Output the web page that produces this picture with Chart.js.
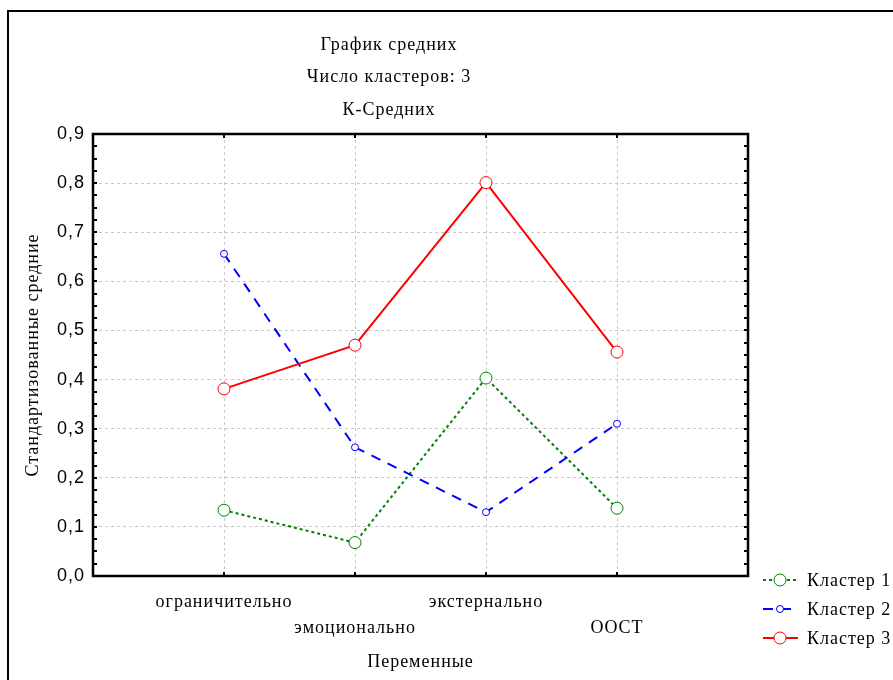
<!DOCTYPE html>
<html>
<head>
<meta charset="utf-8">
<script src="https://cdn.jsdelivr.net/npm/chart.js@4.4.1/dist/chart.umd.min.js"></script>
<style>
    html, body { margin: 0; padding: 0; background: #ffffff; }
    #wrap { width: 893px; height: 680px; }
</style>
</head>
<body>
<div id="wrap"><canvas id="meansChart" width="893" height="680"></canvas></div>
<script>
// Data
const categories = ['ограничительно', 'эмоционально', 'экстернально', 'ООСТ'];
const cluster1 = [0.134, 0.068, 0.403, 0.138];
const cluster2 = [0.656, 0.262, 0.130, 0.310];
const cluster3 = [0.381, 0.470, 0.801, 0.456];
const seriesNames = ['Кластер 1', 'Кластер 2', 'Кластер 3'];
const titleLines = ['График средних', 'Число кластеров: 3', 'К-Средних'];
const yMin = 0, yMax = 0.9, yStep = 0.1, yMinorStep = 0.025;

const serif = '"Liberation Serif", "Times New Roman", serif';
const sans = '"Liberation Sans", Arial, sans-serif';

function toPoints(values) {
    return values.map(function(v, i) { return { x: i + 1, y: v }; });
}

// Frame, titles, legend, inward ticks
const decorPlugin = {
    id: 'decor',
    beforeDraw: function(chart) {
        const ctx = chart.ctx;
        ctx.save();
        ctx.fillStyle = '#ffffff';
        ctx.fillRect(0, 0, chart.width, chart.height);
        ctx.restore();
        // the original text is a little more spaced out
        ctx.letterSpacing = '1px';
    },
    afterDraw: function(chart) {
        const ctx = chart.ctx;
        const area = chart.chartArea;
        const xs = chart.scales.x;
        const ys = chart.scales.y;
        ctx.save();

        // outer frame
        ctx.strokeStyle = '#000000';
        ctx.lineWidth = 2;
        ctx.strokeRect(8, 11, 900, 700);

        // plot border
        ctx.lineWidth = 2.5;
        ctx.strokeRect(area.left, area.top, area.right - area.left, area.bottom - area.top);

        // ticks pointing inward
        ctx.lineWidth = 2;
        ctx.beginPath();
        for (let v = yMin; v <= yMax + 1e-9; v += yMinorStep) {
            const py = Math.round(ys.getPixelForValue(v));
            ctx.moveTo(area.left, py);
            ctx.lineTo(area.left + 4, py);
            ctx.moveTo(area.right, py);
            ctx.lineTo(area.right - 4, py);
        }
        for (let i = 1; i <= categories.length; i++) {
            const px = Math.round(xs.getPixelForValue(i));
            ctx.moveTo(px, area.top);
            ctx.lineTo(px, area.top + 4);
            ctx.moveTo(px, area.bottom);
            ctx.lineTo(px, area.bottom - 4);
        }
        ctx.stroke();

        // titles
        ctx.fillStyle = '#000000';
        ctx.font = '18px ' + serif;
        ctx.textAlign = 'center';
        ctx.textBaseline = 'middle';
        titleLines.forEach(function(line, i) {
            ctx.fillText(line, 389, 45 + i * 32.5);
        });

        // axis titles
        ctx.fillText('Переменные', (area.left + area.right) / 2, 662);
        ctx.save();
        ctx.translate(33, (area.top + area.bottom) / 2);
        ctx.rotate(-Math.PI / 2);
        ctx.fillText('Стандартизованные средние', 0, 0);
        ctx.restore();

        // legend
        chart.data.datasets.forEach(function(ds, i) {
            const ly = 580 + i * 29;
            ctx.strokeStyle = ds.borderColor;
            ctx.lineWidth = 2;
            ctx.setLineDash(ds.borderDash || []);
            ctx.beginPath();
            ctx.moveTo(763, ly);
            ctx.lineTo(798, ly);
            ctx.stroke();
            ctx.setLineDash([]);
            ctx.lineWidth = 1;
            ctx.fillStyle = '#ffffff';
            ctx.beginPath();
            ctx.arc(780, ly, ds.pointRadius, 0, Math.PI * 2);
            ctx.fill();
            ctx.stroke();
            ctx.fillStyle = '#000000';
            ctx.textAlign = 'left';
            ctx.fillText(ds.label, 807, ly + 1);
        });
        ctx.restore();
    }
};

const chart = new Chart(document.getElementById('meansChart').getContext('2d'), {
    type: 'line',
    data: {
        datasets: [{
            label: seriesNames[0],
            data: toPoints(cluster1),
            borderColor: '#008000',
            borderWidth: 2,
            borderDash: [3, 3],
            pointRadius: 6,
            pointBorderWidth: 1,
            pointBackgroundColor: '#ffffff',
            pointBorderColor: '#008000',
            order: 3
        }, {
            label: seriesNames[1],
            data: toPoints(cluster2),
            borderColor: '#0000ff',
            borderWidth: 2,
            borderDash: [10, 8],
            pointRadius: 3.5,
            pointBorderWidth: 1,
            pointBackgroundColor: '#ffffff',
            pointBorderColor: '#0000ff',
            order: 2
        }, {
            label: seriesNames[2],
            data: toPoints(cluster3),
            borderColor: '#ff0000',
            borderWidth: 2,
            pointRadius: 6,
            pointBorderWidth: 1,
            pointBackgroundColor: '#ffffff',
            pointBorderColor: '#ff0000',
            order: 1
        }]
    },
    options: {
        responsive: false,
        animation: false,
        layout: {
            padding: { left: 0, top: 134, right: 145, bottom: 0 }
        },
        plugins: {
            legend: { display: false },
            title: { display: false },
            tooltip: { enabled: false }
        },
        scales: {
            x: {
                type: 'linear',
                min: 0,
                max: categories.length + 1,
                afterFit: function(scale) { scale.height = 104; },
                border: { display: false, dash: [3, 3] },
                grid: {
                    drawTicks: false,
                    color: function(c) {
                        const v = c.tick ? c.tick.value : 0;
                        return (v <= 0 || v >= categories.length + 1) ? 'rgba(0,0,0,0)' : '#c8c8c8';
                    }
                },
                ticks: {
                    stepSize: 1,
                    autoSkip: false,
                    maxRotation: 0,
                    padding: 13,
                    color: '#000000',
                    font: { family: serif, size: 18, lineHeight: 26 / 18 },
                    callback: function(value) {
                        const idx = value - 1;
                        if (idx < 0 || idx >= categories.length) return '';
                        return idx % 2 === 0 ? [categories[idx], ''] : ['', categories[idx]];
                    }
                }
            },
            y: {
                min: yMin,
                max: yMax,
                afterFit: function(scale) { scale.width = 93; },
                border: { display: false, dash: [3, 3] },
                grid: {
                    drawTicks: false,
                    color: function(c) {
                        const v = c.tick ? c.tick.value : 0;
                        return (v <= yMin + 1e-9 || v >= yMax - 1e-9) ? 'rgba(0,0,0,0)' : '#c8c8c8';
                    }
                },
                ticks: {
                    stepSize: yStep,
                    padding: 8,
                    color: '#000000',
                    font: { family: sans, size: 18 },
                    callback: function(value) { return value.toFixed(1).replace('.', ','); }
                }
            }
        }
    },
    plugins: [decorPlugin]
});
</script>
</body>
</html>
